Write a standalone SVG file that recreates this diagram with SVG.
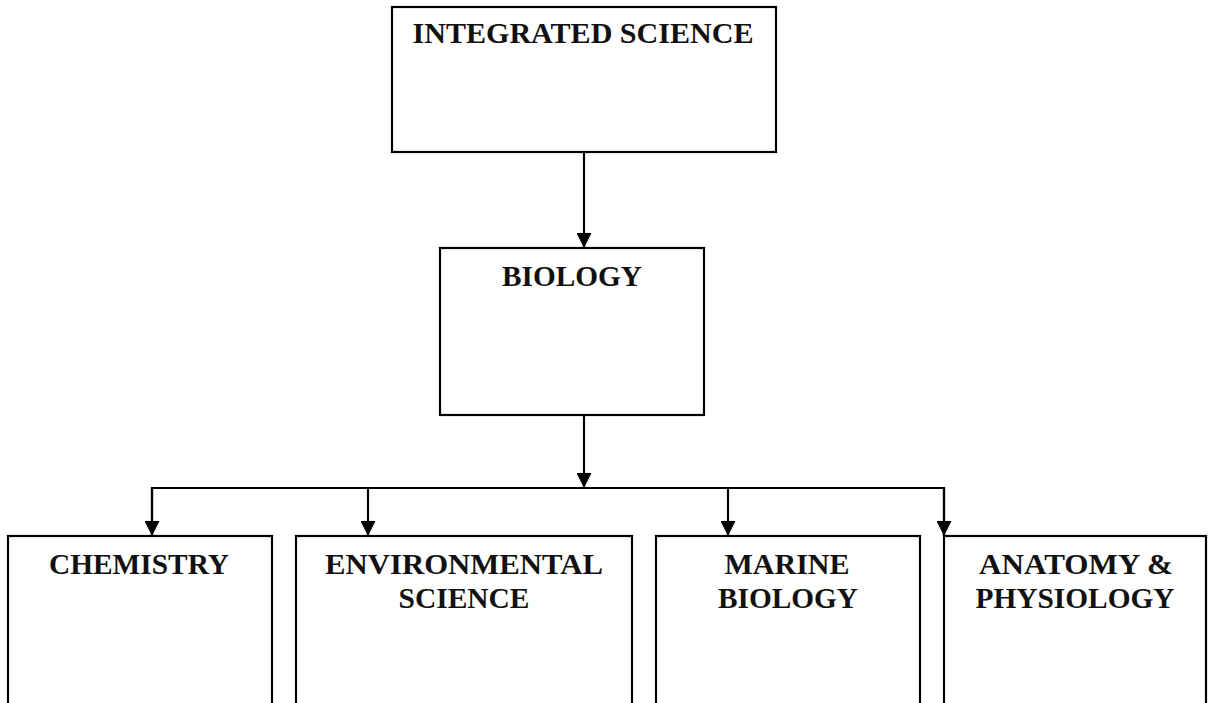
<svg xmlns="http://www.w3.org/2000/svg" width="1208" height="703" viewBox="0 0 1208 703">
<style>
.box{fill:#fff;stroke:#000;stroke-width:2.2}
.lbl{font-family:"Liberation Serif","Times New Roman",serif;font-weight:bold;font-size:29px;fill:#111;text-anchor:middle}
.con{fill:none;stroke:#000;stroke-width:2.2}
</style>
<defs>
<marker id="ah" viewBox="0 0 15 15" refX="15" refY="7.5" markerWidth="15" markerHeight="15" markerUnits="userSpaceOnUse" orient="auto">
<path d="M0,0 L15,7.5 L0,15 z" fill="#000"/>
</marker>
</defs>
<rect width="1208" height="703" fill="#fff"/>
<g id="connectors">
<path class="con" d="M584,152 V248" marker-end="url(#ah)"/>
<path class="con" d="M584,415 V488" marker-end="url(#ah)"/>
<path class="con" d="M152,536 V488 H944 V536" />
<path class="con" d="M152,488 V536" marker-end="url(#ah)"/>
<path class="con" d="M368,488 V536" marker-end="url(#ah)"/>
<path class="con" d="M728,488 V536" marker-end="url(#ah)"/>
<path class="con" d="M944,488 V536" marker-end="url(#ah)"/>
</g>
<g id="integrated-science">
<rect class="box" x="392" y="7" width="384" height="145"/>
<text class="lbl" x="583" y="43" textLength="341" lengthAdjust="spacingAndGlyphs">INTEGRATED SCIENCE</text>
</g>
<g id="biology">
<rect class="box" x="440" y="248" width="264" height="167"/>
<text class="lbl" x="572" y="286" textLength="140" lengthAdjust="spacingAndGlyphs">BIOLOGY</text>
</g>
<g id="chemistry">
<rect class="box" x="8" y="536" width="264" height="190"/>
<text class="lbl" x="139" y="574" textLength="180" lengthAdjust="spacingAndGlyphs">CHEMISTRY</text>
</g>
<g id="environmental-science">
<rect class="box" x="296" y="536" width="336" height="190"/>
<text class="lbl" x="464" y="574" textLength="278" lengthAdjust="spacingAndGlyphs">ENVIRONMENTAL</text>
<text class="lbl" x="464" y="608" textLength="131" lengthAdjust="spacingAndGlyphs">SCIENCE</text>
</g>
<g id="marine-biology">
<rect class="box" x="656" y="536" width="264" height="190"/>
<text class="lbl" x="787" y="574" textLength="125" lengthAdjust="spacingAndGlyphs">MARINE</text>
<text class="lbl" x="788" y="608" textLength="140" lengthAdjust="spacingAndGlyphs">BIOLOGY</text>
</g>
<g id="anatomy-physiology">
<rect class="box" x="944" y="536" width="262" height="190"/>
<text class="lbl" x="1076" y="574" textLength="194" lengthAdjust="spacingAndGlyphs">ANATOMY &amp;</text>
<text class="lbl" x="1075" y="608" textLength="199" lengthAdjust="spacingAndGlyphs">PHYSIOLOGY</text>
</g>
</svg>
